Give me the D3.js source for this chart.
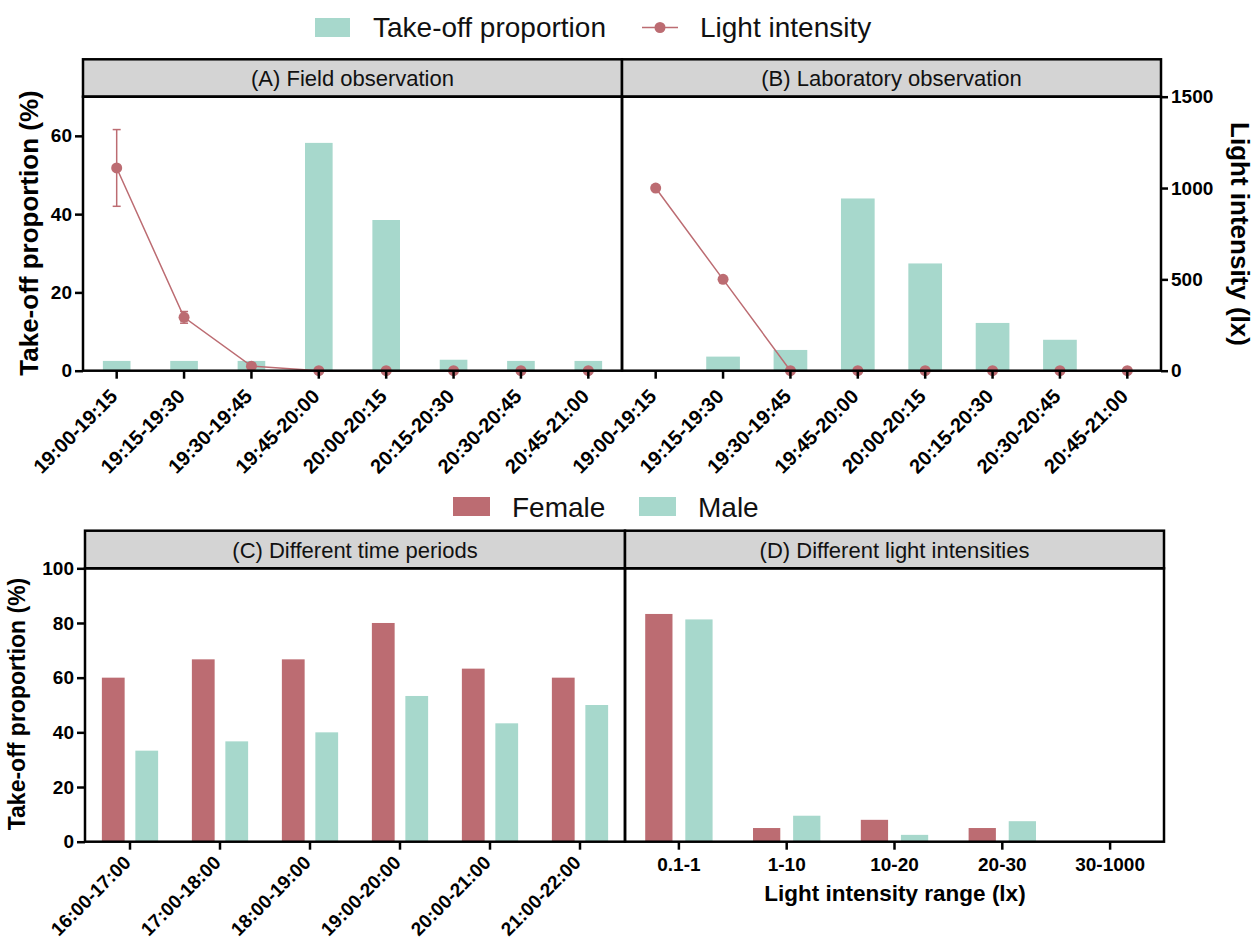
<!DOCTYPE html>
<html>
<head>
<meta charset="utf-8">
<script src="https://cdn.jsdelivr.net/npm/d3@7"></script>
<style>
  body { margin: 0; background: #fff; }
  svg { display: block; font-family: "Liberation Sans", Arial, sans-serif; }
  .tick text { font-family: "Liberation Sans", Arial, sans-serif; font-weight: bold; font-size: 19px; fill: #000; }
  .rot .tick text { font-size: 20px; }
  .rot.low .tick text { font-size: 19px; }
</style>
</head>
<body>
<div id="fig"></div>
<script>
// Time slots used in the two top panels
var slots = ['19:00-19:15','19:15-19:30','19:30-19:45','19:45-20:00',
             '20:00-20:15','20:15-20:30','20:30-20:45','20:45-21:00'];

// (A) field observation
var takeoffField = [2.5, 2.5, 2.5, 58.2, 38.5, 2.8, 2.5, 2.5];
var lightField = [1110, 292, 25, 0, 0, 0, 0, 0];
var lightFieldErr = [210, 32, 0, 0, 0, 0, 0, 0];

// (B) laboratory observation
var takeoffLab = [0, 3.6, 5.3, 44.0, 27.4, 12.2, 7.9, 0];
var lightLab = [1000, 500, 0, 0, 0, 0, 0, 0];

// (C) different time periods
var periods = ['16:00-17:00','17:00-18:00','18:00-19:00','19:00-20:00','20:00-21:00','21:00-22:00'];
var femalePeriod = [60, 66.7, 66.7, 80, 63.3, 60];
var malePeriod = [33.3, 36.7, 40, 53.3, 43.3, 50];

// (D) different light intensities
var ranges = ['0.1-1','1-10','10-20','20-30','30-1000'];
var femaleRange = [83.3, 5, 8, 5, 0];
var maleRange = [81.3, 9.5, 2.5, 7.5, 0];

var sexes = ['Female','Male'];
var yTicksTop = [0, 20, 40, 60];
var yTicksRight = [0, 500, 1000, 1500];
var yTicksBottom = [0, 20, 40, 60, 80, 100];

var teal = '#a7d8cc', rose = '#bc6c72', stripFill = '#d4d4d4';

var W = 1255, H = 946;
var svg = d3.select('#fig').append('svg')
  .attr('width', W).attr('height', H)
  .attr('viewBox', '0 0 ' + W + ' ' + H);

// geometry of the two rows
var rowTop = {y0: 96.7, y1: 370.7, strip: 59.3};
var rowBot = {y0: 568.3, y1: 841.7, strip: 530.7};
var panA = {x0: 83, x1: 622}, panB = {x0: 622, x1: 1161};
var panC = {x0: 85, x1: 625}, panD = {x0: 625, x1: 1164};

var yLeft = d3.scaleLinear().domain([0, 70]).range([rowTop.y1, rowTop.y0]);
var yRight = d3.scaleLinear().domain([0, 1500]).range([rowTop.y1, rowTop.y0]);
var yBot = d3.scaleLinear().domain([0, 100]).range([rowBot.y1, rowBot.y0]);

function strip(p, row, label) {
  svg.append('rect')
    .attr('x', p.x0).attr('y', row.strip)
    .attr('width', p.x1 - p.x0).attr('height', row.y0 - row.strip)
    .attr('fill', stripFill).attr('stroke', '#000').attr('stroke-width', 2.5);
  svg.append('text')
    .attr('x', (p.x0 + p.x1) / 2).attr('y', (row.strip + row.y0) / 2 + 8)
    .attr('text-anchor', 'middle').attr('font-size', 22).attr('fill', '#111')
    .text(label);
}

function box(p, row) {
  svg.append('rect')
    .attr('x', p.x0).attr('y', row.y0)
    .attr('width', p.x1 - p.x0).attr('height', row.y1 - row.y0)
    .attr('fill', 'none').attr('stroke', '#000').attr('stroke-width', 2.5);
}

function styleAxis(g) {
  g.select('.domain').remove();
  g.selectAll('.tick line').attr('stroke', '#000').attr('stroke-width', 2.5);
}

function rotatedXAxis(x, row, cls, dy) {
  var g = svg.append('g')
    .attr('class', cls)
    .attr('transform', 'translate(0,' + row.y1 + ')')
    .call(d3.axisBottom(x).tickSize(8).tickSizeOuter(0))
    .call(styleAxis);
  g.selectAll('.tick text')
    .attr('x', 0).attr('y', 0).attr('dy', 0)
    .attr('text-anchor', 'end')
    .attr('transform', 'translate(2,' + dy + ') rotate(-45)');
}

// ---------- top row: (A) and (B) ----------
function topPanel(p, props, light, err, barFrac) {
  var x = d3.scaleBand().domain(slots).range([p.x0, p.x1]);
  var bw = x.bandwidth() * barFrac;

  svg.append('g').selectAll('rect')
    .data(props).enter().append('rect')
    .attr('x', function(d, i) { return x(slots[i]) + (x.bandwidth() - bw) / 2; })
    .attr('y', function(d) { return yLeft(d); })
    .attr('width', bw)
    .attr('height', function(d) { return yLeft(0) - yLeft(d); })
    .attr('fill', teal);

  var cx = function(i) { return x(slots[i]) + x.bandwidth() / 2; };

  if (err) {
    var eg = svg.append('g').attr('stroke', rose).attr('stroke-width', 1.5);
    err.forEach(function(e, i) {
      if (!e) return;
      var yt = yRight(light[i] + e), yb = yRight(light[i] - e);
      eg.append('line').attr('x1', cx(i)).attr('x2', cx(i)).attr('y1', yt).attr('y2', yb);
      eg.append('line').attr('x1', cx(i) - 4).attr('x2', cx(i) + 4).attr('y1', yt).attr('y2', yt);
      eg.append('line').attr('x1', cx(i) - 4).attr('x2', cx(i) + 4).attr('y1', yb).attr('y2', yb);
    });
  }

  svg.append('path')
    .datum(light)
    .attr('fill', 'none').attr('stroke', rose).attr('stroke-width', 1.5)
    .attr('d', d3.line().x(function(d, i) { return cx(i); }).y(function(d) { return yRight(d); }));

  svg.append('g').selectAll('circle')
    .data(light).enter().append('circle')
    .attr('cx', function(d, i) { return cx(i); })
    .attr('cy', function(d) { return yRight(d); })
    .attr('r', 5.5).attr('fill', rose);

  box(p, rowTop);
  rotatedXAxis(x, rowTop, 'rot', 27);
}

strip(panA, rowTop, '(A) Field observation');
strip(panB, rowTop, '(B) Laboratory observation');
topPanel(panA, takeoffField, lightField, lightFieldErr, 0.41);
topPanel(panB, takeoffLab, lightLab, null, 0.5);

svg.append('g')
  .attr('transform', 'translate(' + panA.x0 + ',0)')
  .call(d3.axisLeft(yLeft).tickValues(yTicksTop).tickSize(8).tickPadding(3))
  .call(styleAxis);

svg.append('g')
  .attr('transform', 'translate(' + panB.x1 + ',0)')
  .call(d3.axisRight(yRight).tickValues(yTicksRight).tickFormat(d3.format('d')).tickSize(7).tickPadding(3))
  .call(styleAxis);

svg.append('text')
  .attr('transform', 'translate(38,233) rotate(-90)')
  .attr('text-anchor', 'middle').attr('font-weight', 'bold').attr('font-size', 26)
  .text('Take-off proportion (%)');

svg.append('text')
  .attr('transform', 'translate(1231,234) rotate(90)')
  .attr('text-anchor', 'middle').attr('font-weight', 'bold').attr('font-size', 26)
  .text('Light intensity (lx)');

// top legend
svg.append('rect').attr('x', 315).attr('y', 18).attr('width', 35).attr('height', 19).attr('fill', teal);
svg.append('text').attr('x', 373).attr('y', 37).attr('font-size', 28).attr('fill', '#111').text('Take-off proportion');
svg.append('line').attr('x1', 642).attr('x2', 678).attr('y1', 27.5).attr('y2', 27.5)
  .attr('stroke', rose).attr('stroke-width', 1.5);
svg.append('circle').attr('cx', 660).attr('cy', 27.5).attr('r', 5.5).attr('fill', rose);
svg.append('text').attr('x', 700).attr('y', 37).attr('font-size', 28).attr('fill', '#111').text('Light intensity');

// ---------- bottom row: (C) and (D) ----------
var colour = d3.scaleOrdinal().domain(sexes).range([rose, teal]);

function groupedPanel(p, cats, fem, mal) {
  var x = d3.scaleBand().domain(cats).range([p.x0, p.x1]);
  var groupW = x.bandwidth() * 0.625;
  var xs = d3.scaleBand().domain(sexes).range([0, groupW]).paddingInner(0.32);
  var rows = cats.map(function(c, i) { return {cat: c, Female: fem[i], Male: mal[i]}; });

  svg.append('g').selectAll('g')
    .data(rows).enter().append('g')
    .attr('transform', function(d) { return 'translate(' + (x(d.cat) + (x.bandwidth() - groupW) / 2) + ',0)'; })
    .selectAll('rect')
    .data(function(d) { return sexes.map(function(s) { return {sex: s, v: d[s]}; }); })
    .enter().append('rect')
    .attr('x', function(d) { return xs(d.sex); })
    .attr('y', function(d) { return yBot(d.v); })
    .attr('width', xs.bandwidth())
    .attr('height', function(d) { return yBot(0) - yBot(d.v); })
    .attr('fill', function(d) { return colour(d.sex); });

  box(p, rowBot);
  return x;
}

strip(panC, rowBot, '(C) Different time periods');
strip(panD, rowBot, '(D) Different light intensities');
var xC = groupedPanel(panC, periods, femalePeriod, malePeriod);
var xD = groupedPanel(panD, ranges, femaleRange, maleRange);
rotatedXAxis(xC, rowBot, 'rot low', 22);

svg.append('g')
  .attr('transform', 'translate(0,' + rowBot.y1 + ')')
  .call(d3.axisBottom(xD).tickSize(8).tickPadding(8))
  .call(styleAxis);

svg.append('g')
  .attr('transform', 'translate(' + panC.x0 + ',0)')
  .call(d3.axisLeft(yBot).tickValues(yTicksBottom).tickSize(8).tickPadding(3))
  .call(styleAxis);

svg.append('text')
  .attr('transform', 'translate(25,704) rotate(-90)')
  .attr('text-anchor', 'middle').attr('font-weight', 'bold').attr('font-size', 23)
  .text('Take-off proportion (%)');

svg.append('text')
  .attr('x', 895).attr('y', 901)
  .attr('text-anchor', 'middle').attr('font-weight', 'bold').attr('font-size', 22.5)
  .text('Light intensity range (lx)');

// bottom legend
sexes.forEach(function(s, i) {
  var sx = [453, 639][i];
  svg.append('rect').attr('x', sx).attr('y', 497).attr('width', 37).attr('height', 19).attr('fill', colour(s));
  svg.append('text').attr('x', sx + 59).attr('y', 517).attr('font-size', 28).attr('fill', '#111').text(s);
});
</script>
</body>
</html>
